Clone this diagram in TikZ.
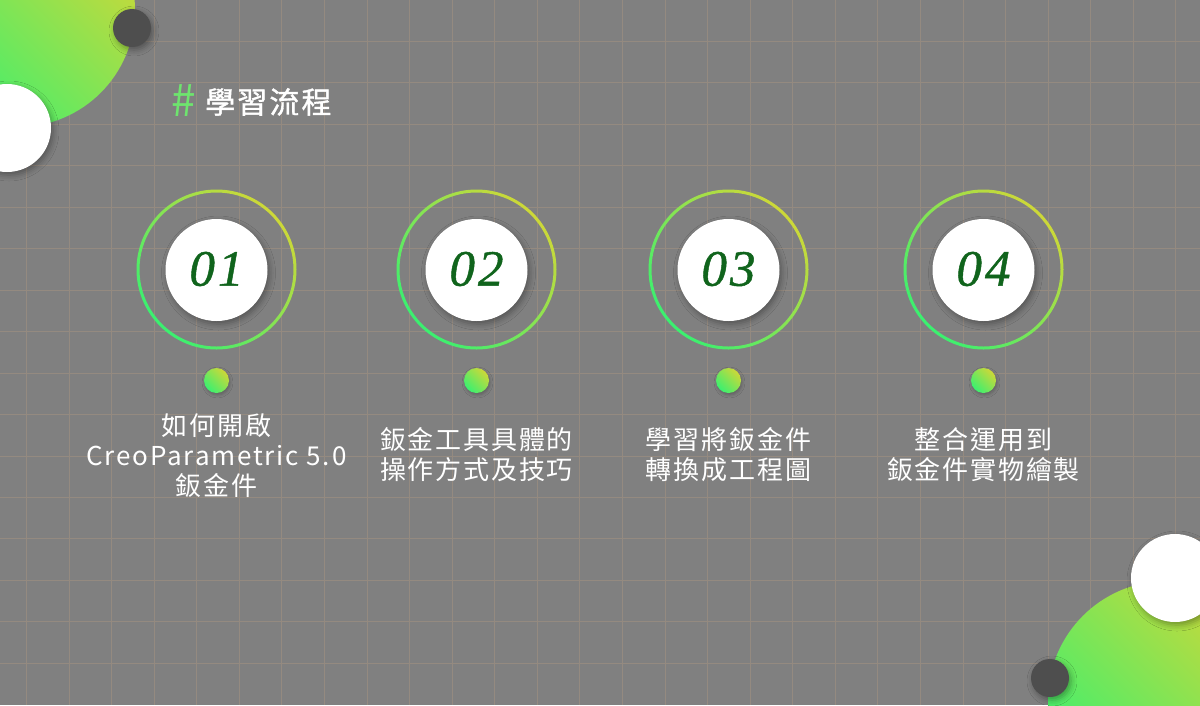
\documentclass[tikz,border=0pt]{standalone}
\usepackage{fontspec}
\newfontfamily\cjk{Noto Sans CJK TC}[LetterSpace=7]
\newfontfamily\cjkt{Noto Sans CJK TC}[LetterSpace=7, FakeBold=1.2]
\newfontfamily\numfont{Liberation Serif}[LetterSpace=6, FakeBold=0.9]
\usetikzlibrary{shadows.blur}
\definecolor{bg}{RGB}{128,128,128}
\definecolor{gridc}{RGB}{148,138,128}
\definecolor{gy}{RGB}{205,216,56}
\definecolor{gg}{RGB}{58,240,112}
\definecolor{darkc}{RGB}{78,78,78}
\definecolor{numc}{RGB}{16,100,28}
\definecolor{hashc}{RGB}{110,228,110}
\tikzset{
  gridline/.style={draw=gridc, line width=0.9pt},
  grad/.style={top color=gy, bottom color=gg, shading angle=-45},
  softshadow/.style={blur shadow={shadow xshift=2pt, shadow yshift=-3pt, shadow blur radius=6pt, shadow opacity=35}},
  innerc/.style={circle, fill=white, minimum size=102pt, inner sep=0pt, softshadow},
  dotc/.style={circle, grad, minimum size=25pt, inner sep=0pt, blur shadow={shadow xshift=1pt, shadow yshift=-2pt, shadow blur radius=3pt, shadow opacity=25}},
  numtxt/.style={text=numc, font=\numfont\itshape\fontsize{51}{56}\selectfont, inner sep=0pt},
  labeltxt/.style={text=white, align=center, font=\cjk\fontsize{26}{30}\selectfont, inner sep=0pt},
  titletxt/.style={text=white, font=\cjkt\fontsize{30}{34}\selectfont, inner sep=0pt},
  hashtxt/.style={text=hashc, font=\cjk\fontsize{44}{46}\selectfont, inner sep=0pt}
}
\begin{document}
\begin{tikzpicture}[x=1pt,y=-1pt]
\fill[bg] (0,0) rectangle (1200,705);
\useasboundingbox (0,0) rectangle (1200,705);
\begin{scope}
\clip (0,0) rectangle (1200,705);
% grid
\foreach \i in {0,...,27} \draw[gridline] ({26.5+42.57*\i},0) -- ++(0,705);
\foreach \j in {1,...,16} \draw[gridline] (0,{41.45*\j}) -- ++(1200,0);
% top-left decoration
\shade[grad] (18,10) circle (117pt);
\node[circle, fill=white, minimum size=88pt, inner sep=0pt, softshadow] (wtl) at (7,128) {};
\node[circle, fill=darkc, minimum size=38pt, inner sep=0pt, softshadow] (dtl) at (132,28) {};
% bottom-right decoration
\shade[grad] (1167,700) circle (119pt);
\node[circle, fill=white, minimum size=88pt, inner sep=0pt, softshadow] (wbr) at (1175,578) {};
\node[circle, fill=darkc, minimum size=38pt, inner sep=0pt, softshadow] (dbr) at (1050,678) {};
\end{scope}
% title
\node[hashtxt, anchor=center] (hash) at (184,101) {\#};
\node[titletxt, anchor=west] (title) at (205,102) {學習流程};
% steps
\foreach \n/\cx in {1/216.5, 2/476.5, 3/728.5, 4/983.5} {
  \shade[grad, even odd rule] (\cx,269.5) circle (80pt) circle (77pt);
  \node[innerc] (c\n) at (\cx,270) {};
  \node[numtxt] (n\n) at ([yshift=1pt]c\n.center) {0\n};
  \node[dotc] (d\n) at (\cx,380.5) {};
}
\node[labeltxt] (t1) at (216.5,456) {如何開啟\\CreoParametric 5.0\\鈑金件};
\node[labeltxt] (t2) at (476.5,455) {鈑金工具具體的\\操作方式及技巧};
\node[labeltxt] (t3) at (728.5,455) {學習將鈑金件\\轉換成工程圖};
\node[labeltxt] (t4) at (983.5,455) {整合運用到\\鈑金件實物繪製};
\end{tikzpicture}
\end{document}
